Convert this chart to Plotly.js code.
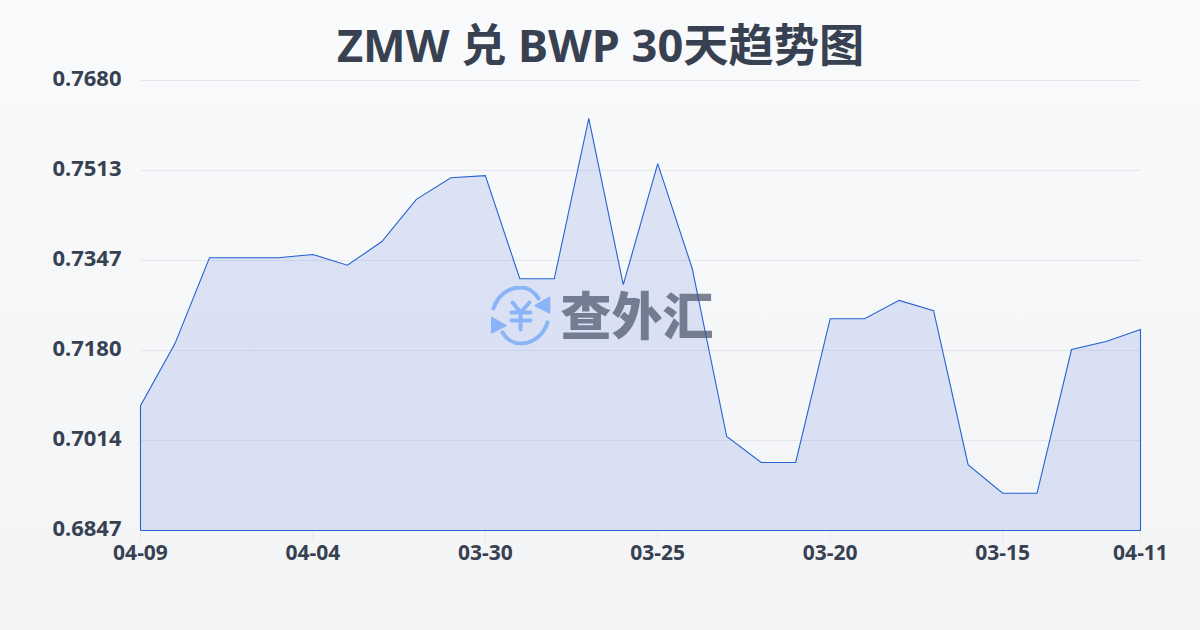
<!DOCTYPE html>
<html><head><meta charset="utf-8">
<script src="https://cdn.plot.ly/plotly-3.0.1.min.js"></script>
<style>
html,body{margin:0;padding:0;width:1200px;height:630px;overflow:hidden;background:linear-gradient(180deg,#f9fafb 0%,#f3f4f6 100%);}
#chart{width:1200px;height:630px;transform:translate(0.5px,0.5px);}
</style></head><body><div id="chart"></div>
<script>
const titleText = 'ZMW 兑 BWP 30天趋势图';
const watermarkText = '查外汇';
const dates = ['04-09','04-08','04-07','04-06','04-05','04-04','04-03','04-02','04-01','03-31','03-30','03-29','03-28','03-27','03-26','03-25','03-24','03-23','03-22','03-21','03-20','03-19','03-18','03-17','03-16','03-15','03-14','03-13','03-12','04-11'];
const rates = [0.7078,0.7193,0.7352,0.7352,0.7352,0.7358,0.7338,0.7382,0.7460,0.7500,0.7504,0.7313,0.7313,0.7610,0.7302,0.7526,0.7332,0.7021,0.6973,0.6973,0.7239,0.7239,0.7273,0.7254,0.6969,0.6916,0.6916,0.7182,0.7197,0.7219];
const yTickVals = [0.7680,0.75134,0.73468,0.71802,0.70136,0.6847];
const yTickText = ['0.7680','0.7513','0.7347','0.7180','0.7014','0.6847'];
const xTickText = ['04-09','04-04','03-30','03-25','03-20','03-15','04-11'];
const xTickVals = [0,5,10,15,20,25,29];
const yBase = 0.6847, yTop = 0.7680;
// 10 px of clear space round the data so the outline is not clipped by the plot area
const xPad = 29*10/1000, yPad = (yTop-yBase)*10/450;

const idx = dates.map((d,i)=>i);
const xs = [0].concat(idx,[idx.length-1,0]);
const ys = [yBase].concat(rates,[yBase,yBase]);
const labels = [dates[0]].concat(dates,[dates[dates.length-1],dates[0]]);

const icon = 'data:image/svg+xml;utf8,' + encodeURIComponent(
 '<svg xmlns="http://www.w3.org/2000/svg" viewBox="0 0 60 60">'+
 '<g fill="none" stroke="#8ab4f8" stroke-width="4" stroke-linecap="round" stroke-linejoin="round">'+
 '<path d="M3 23 C7 10 18 2 30 2 C37 2 44 6 48 13"/>'+
 '<path d="M57 37 C53 50 42 58 30 58 C23 58 16 54 12 47"/>'+
 '<path d="M22 17 L30 27 L39 17 M30 27 L30 44 M21 27 L40 27 M21 35 L40 35"/>'+
 '</g>'+
 '<path d="M59 12 L59 27 L45 20 Z" fill="#8ab4f8" stroke="#8ab4f8" stroke-width="2" stroke-linejoin="round"/>'+
 '<path d="M1 32 L1 47 L15 40 Z" fill="#8ab4f8" stroke="#8ab4f8" stroke-width="2" stroke-linejoin="round"/>'+
 '</svg>');

const trace = {
  type:'scatter', mode:'lines', x:xs, y:ys, text:labels, hoverinfo:'text+y',
  line:{color:'#2563d0',width:1.1,shape:'linear'},
  fill:'toself', fillcolor:'rgba(29,78,216,0.13)'
};
const gridShapes = yTickVals.map(v=>({type:'line',layer:'below',xref:'x',yref:'y',x0:0,x1:29,y0:v,y1:v,
  line:{color:'#e5e7eb',width:1}}));
const tickShapes = xTickVals.map(v=>({type:'line',layer:'below',xref:'x',yref:'paper',x0:v,x1:v,
  y0:10/470,y1:-1/470,line:{color:'#e5e7eb',width:1}}));
const layout = {
  width:1200,height:630,
  paper_bgcolor:'rgba(0,0,0,0)',plot_bgcolor:'rgba(0,0,0,0)',
  margin:{l:130,r:50,t:70,b:90},
  showlegend:false,
  title:{text:titleText,x:0.5,xanchor:'center',y:0.927,yanchor:'middle',
    font:{family:'"Noto Sans","Noto Sans CJK SC",sans-serif',size:45.2,weight:700,color:'#374151'}},
  xaxis:{type:'linear',range:[-xPad,29+xPad],tickmode:'array',tickvals:xTickVals,ticktext:xTickText,
    showgrid:false,zeroline:false,showline:false,ticks:'',ticklabelstandoff:-3,
    tickfont:{family:'"Noto Sans",sans-serif',size:21,weight:700,color:'#374151'}},
  yaxis:{type:'linear',range:[yBase-yPad,yTop+yPad],tickmode:'array',tickvals:yTickVals,ticktext:yTickText,
    showgrid:false,zeroline:false,showline:false,ticks:'',
    ticklabelstandoff:8,ticklabelshift:-2,
    tickfont:{family:'"Noto Sans",sans-serif',size:22,weight:700,color:'#374151'}},
  shapes:gridShapes.concat(tickShapes),
  images:[{source:icon,xref:'paper',yref:'paper',x:(490-130)/1020,y:(540-285)/470,sizex:60/1020,sizey:60/470,
    xanchor:'left',yanchor:'top',sizing:'stretch',layer:'above'}],
  annotations:[{text:watermarkText,xref:'paper',yref:'paper',x:(636-130)/1020,y:(540-312)/470,
    xanchor:'center',yanchor:'middle',showarrow:false,
    font:{family:'"Noto Sans CJK SC",sans-serif',size:51,weight:900,color:'rgba(75,85,105,0.72)'}}]
};
Plotly.newPlot('chart',[trace],layout,{displayModeBar:false,staticPlot:true});
</script></body></html>
